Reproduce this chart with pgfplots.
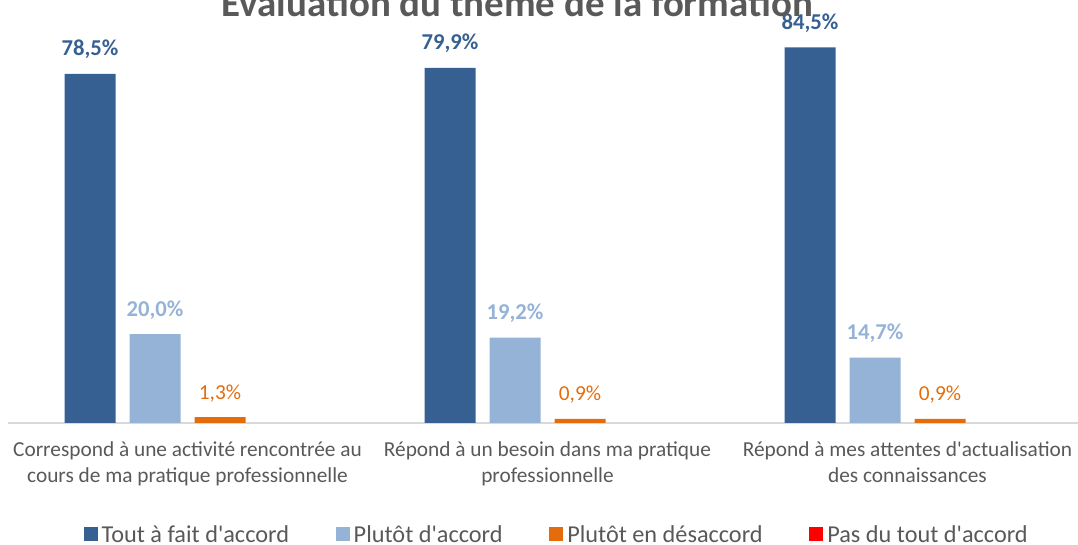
\documentclass[border=0pt]{standalone}
\usepackage{fontspec}
\setmainfont{Carlito}[Ligatures=TeXOff]
\usepackage{pgfplots}
\pgfplotsset{compat=1.18}

\definecolor{darkblue}{HTML}{376092}
\definecolor{lightblue}{HTML}{95B3D7}
\definecolor{orangebar}{HTML}{E46C0A}
\definecolor{redbar}{HTML}{FF0000}
\definecolor{textgray}{HTML}{595959}
\definecolor{axisgray}{HTML}{D9D9D9}

\begin{document}
\begin{tikzpicture}
\begin{axis}[
    at={(5.625pt,91.5pt)}, anchor=south west,
    scale only axis,
    width=810pt, height=317.25pt,
    ybar=10.5pt, bar width=38.25pt,
    xmin=-0.5, xmax=2.5,
    ymin=0, ymax=95.14,
    clip=false,
    axis x line=bottom, axis y line=none,
    x axis line style={-, draw=axisgray, line width=0.9pt},
    xtick={0,1,2},
    major tick length=0pt,
    xticklabels={
        {Correspond à une activité rencontrée au\\cours de ma pratique professionnelle},
        {Répond à un besoin dans ma pratique\\professionnelle},
        {Répond à mes attentes d'actualisation\\des connaissances}},
    xticklabel style={font=\fontsize{16}{19.5}\selectfont, text=textgray,
        align=center, anchor=north, inner sep=0pt, yshift=-14pt},
    point meta=explicit symbolic,
    every node near coord/.append style={anchor=base, yshift=13.5pt},
    sq legend/.style={legend image code/.code={\fill[##1] (0pt,-3.75pt) rectangle (10.5pt,6.75pt);}},
    legend columns=4,
    legend style={at={(0.5088,-0.266)}, anchor=center, draw=none, fill=none,
        font=\color{textgray}\fontsize{18.2}{22}\selectfont,
        /tikz/every odd column/.append style={column sep=1pt},
        /tikz/every even column/.append style={column sep=33pt}},
]
\addplot[fill=darkblue, draw=none, sq legend, nodes near coords,
    every node near coord/.append style={font=\bfseries\fontsize{17}{20}\selectfont, text=darkblue}]
    coordinates {(0,78.5) [78,5\%] (1,79.9) [79,9\%] (2,84.5) [84,5\%]};
\addplot[fill=lightblue, draw=none, sq legend, nodes near coords,
    every node near coord/.append style={font=\bfseries\fontsize{17}{20}\selectfont, text=lightblue}]
    coordinates {(0,20.0) [20,0\%] (1,19.2) [19,2\%] (2,14.7) [14,7\%]};
\addplot[fill=orangebar, draw=none, sq legend, nodes near coords,
    every node near coord/.append style={font=\fontsize{16}{19}\selectfont, text=orangebar}]
    coordinates {(0,1.3) [1,3\%] (1,0.9) [0,9\%] (2,0.9) [0,9\%]};
\addplot[fill=none, draw=none,
    legend image code/.code={\fill[redbar] (0pt,-3.75pt) rectangle (10.5pt,6.75pt);}]
    coordinates {(0,0) [] (1,0) [] (2,0) []};
\legend{Tout à fait d'accord, Plutôt d'accord, Plutôt en désaccord, Pas du tout d'accord}
\end{axis}
\node[anchor=base, font=\bfseries\fontsize{29.2}{35}\selectfont, text=textgray]
    at (388pt,396.5pt) {Évaluation du thème de la formation};
\pgfresetboundingbox
\useasboundingbox (0pt,0pt) rectangle (808.5pt,408.75pt);
\end{tikzpicture}
\end{document}
